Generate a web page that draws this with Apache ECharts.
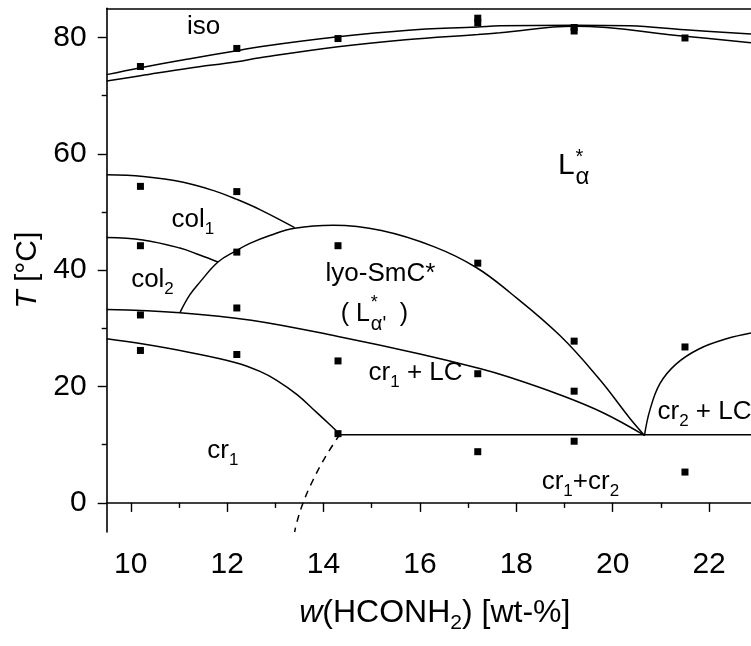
<!DOCTYPE html>
<html>
<head>
<meta charset="utf-8">
<script src="https://cdn.jsdelivr.net/npm/echarts@6/dist/echarts.min.js"></script>
<style>
  html, body { margin: 0; padding: 0; background: #fff; }
  #chart { width: 751px; height: 646px; }
</style>
</head>
<body>
<div id="chart"></div>
<script>
// Phase diagram: temperature T [°C] against formamide content w [wt-%]

// Axis ranges and tick values
const wRange = [9.5, 22.87];
const tRange = [-5, 85];
const wMajorTicks = [10, 12, 14, 16, 18, 20, 22];
const wMinorTicks = [11, 13, 15, 17, 19, 21];
const tMajorTicks = [0, 20, 40, 60, 80];
const tMinorTicks = [10, 30, 50, 70];

// Measured transition points [w, T]
const measured = [
  [10.2, 75.0], [10.2, 54.4], [10.2, 44.2], [10.2, 32.3], [10.2, 26.2],
  [12.2, 78.1], [12.2, 53.5], [12.2, 43.1], [12.2, 33.5], [12.2, 25.5],
  [14.3, 79.8], [14.3, 44.2], [14.3, 24.4], [14.3, 11.9],
  [17.2, 83.3], [17.2, 82.5], [17.2, 41.2], [17.2, 22.2], [17.2, 8.8],
  [19.2, 81.7], [19.2, 81.1], [19.2, 27.8], [19.2, 19.2], [19.2, 10.6],
  [21.5, 79.9], [21.5, 26.8], [21.5, 5.3]
];

// Phase boundaries [w, T]
const clearingUpper = [
  [9.5, 73.6], [10.2, 74.8], [11.2, 76.3], [12.2, 77.7], [12.68, 78.4],
  [14.3, 80.1], [15.7, 81.2], [17.2, 81.8], [17.66, 82.0], [19.2, 82.1],
  [20.35, 82.0], [21.5, 81.3], [22.87, 80.6]
];
const clearingLower = [
  [9.5, 72.5], [10.2, 73.4], [11.2, 74.7], [12.2, 75.8], [12.68, 76.5],
  [14.3, 78.4], [15.7, 79.6], [17.2, 80.5], [17.66, 80.8], [19.2, 81.9],
  [21.5, 80.2], [22.87, 79.1]
];
const col1Boundary = [
  [9.5, 56.4], [10.26, 56.1], [11.09, 55.1], [11.78, 53.5], [12.19, 52.2],
  [12.68, 50.4], [13.4, 47.3]
];
const col2Boundary = [
  [9.5, 45.6], [10.25, 45.2], [11.02, 43.8], [11.43, 42.6], [11.81, 41.4]
];
const smcUpper = [
  [11.02, 32.7], [11.22, 35.7], [11.43, 37.9], [11.81, 41.4], [12.18, 43.3],
  [12.47, 44.6], [12.9, 46.0], [13.4, 47.2], [14.2, 47.7], [15.2, 46.8],
  [16.3, 44.0], [17.16, 40.5], [17.86, 36.2], [18.9, 28.8], [19.73, 21.2],
  [20.35, 14.6], [20.66, 11.6]
];
const smcLower = [
  [9.5, 33.25], [11.02, 32.7], [12.5, 31.4], [14.3, 28.6], [16.0, 25.6],
  [17.24, 23.1], [17.86, 21.6], [18.9, 18.6], [19.8, 15.5], [20.66, 11.6]
];
const cr1Boundary = [
  [9.5, 28.2], [10.26, 27.3], [11.2, 25.9], [12.18, 24.1], [12.68, 22.6],
  [13.02, 21.1], [13.45, 18.6], [13.85, 15.6], [14.15, 13.3], [14.34, 11.8]
];
const cr1Extrapolated = [
  [14.34, 11.8], [14.06, 8.2], [13.78, 3.9], [13.57, -0.1], [13.44, -3.5], [13.4, -5]
];
const eutectic = [[14.34, 11.7], [22.87, 11.7]];
const cr2Boundary = [
  [20.66, 11.6], [20.77, 15.9], [20.98, 20.5], [21.32, 23.9], [21.8, 26.5],
  [22.36, 28.2], [22.87, 29.2]
];

// Phase names [w, T, rich text]
const phaseNames = [
  [11.51, 81.8, '{n|iso}'],
  [11.29, 48.6, '{n|col}{s|1}'],
  [10.45, 38.4, '{n|col}{s|2}'],
  [15.18, 39.3, '{n|lyo-SmC*}'],
  [15.91, 22.4, '{n|cr}{s|1}{n| + LC}'],
  [11.91, 8.9, '{n|cr}{s|1}'],
  [19.33, 3.6, '{n|cr}{s|1}{n|+cr}{s|2}']
];
const phaseNamesLeft = [
  [20.93, 15.6, '{n|cr}{s|2}{n| + LC}']
];
// L*α (right edge of the L) and ( L*α' )
const lAlpha = [19.21, 58.0];
const lAlphaPrime = [14.96, 32.4];

const FONT = '"Liberation Sans", Arial, Helvetica, sans-serif';
const INK = '#000';
const rich = {
  n: { fontSize: 26, fontFamily: FONT, color: INK },
  s: { fontSize: 17, fontFamily: FONT, color: INK, padding: [19, 0, 0, 0] },
  i: { fontSize: 32, fontFamily: FONT, color: INK, fontStyle: 'italic' },
  t: { fontSize: 32, fontFamily: FONT, color: INK },
  ts: { fontSize: 21, fontFamily: FONT, color: INK, padding: [21, 0, 0, 0] },
  yi: { fontSize: 30, fontFamily: FONT, color: INK, fontStyle: 'italic' },
  yt: { fontSize: 30, fontFamily: FONT, color: INK }
};

function nameItem(p, text, extra) {
  return {
    value: [p[0], p[1]],
    label: Object.assign({ formatter: text }, extra || {})
  };
}

const labelData = [];
phaseNames.forEach(p => labelData.push(nameItem(p, p[2], { align: 'center' })));
phaseNamesLeft.forEach(p => labelData.push(nameItem(p, p[2], { align: 'left' })));
// L*α
labelData.push(nameItem(lAlpha, 'L', { align: 'right', fontSize: 30 }));
labelData.push(nameItem(lAlpha, '*', { align: 'left', fontSize: 20, offset: [1, -8] }));
labelData.push(nameItem(lAlpha, 'α', { align: 'left', fontSize: 24, offset: [1, 12] }));
// ( L*α' )
labelData.push(nameItem(lAlphaPrime, '( L', { align: 'right', fontSize: 25 }));
labelData.push(nameItem(lAlphaPrime, '*', { align: 'left', fontSize: 18, offset: [1, -11] }));
labelData.push(nameItem(lAlphaPrime, "α'", { align: 'left', fontSize: 20, offset: [1, 10] }));
labelData.push(nameItem(lAlphaPrime, ')', { align: 'left', fontSize: 25, offset: [30, 0] }));

function boundary(data, dashed) {
  return {
    type: 'line',
    data: data,
    smooth: 0.4,
    symbol: 'none',
    silent: true,
    z: 2,
    lineStyle: { color: '#000', width: 1.5, type: dashed ? [7, 6] : 'solid' }
  };
}

const axisLine = { show: true, lineStyle: { color: '#000', width: 1.6 } };

const chart = echarts.init(document.getElementById('chart'), null, { renderer: 'canvas' });
chart.setOption({
  animation: false,
  backgroundColor: '#fff',
  grid: { left: 106.7, right: 0, top: 8.3, bottom: 114, containLabel: false },
  xAxis: [
    {
      type: 'value', min: wRange[0], max: wRange[1], position: 'bottom',
      axisLine: axisLine,
      splitLine: { show: false },
      axisTick: { show: true, inside: false, length: 9, customValues: wMajorTicks,
                  lineStyle: { color: '#000', width: 1.4 } },
      axisLabel: { customValues: wMajorTicks, fontSize: 30, fontFamily: FONT, color: INK, margin: 18 },
      name: '{i|w}{t|(HCONH}{ts|2}{t|) [wt-%]}',
      nameLocation: 'middle', nameGap: 60,
      nameTextStyle: { rich: rich, padding: [0, 0, 0, 12] }
    },
    {
      type: 'value', min: wRange[0], max: wRange[1], position: 'bottom',
      axisLine: { show: false },
      splitLine: { show: false },
      axisTick: { show: true, inside: false, length: 5, customValues: wMinorTicks,
                  lineStyle: { color: '#000', width: 1.4 } },
      axisLabel: { show: false }
    },
    {
      type: 'value', min: wRange[0], max: wRange[1], position: 'top',
      axisLine: axisLine,
      splitLine: { show: false },
      axisTick: { show: false },
      axisLabel: { show: false }
    }
  ],
  yAxis: [
    {
      type: 'value', min: tRange[0], max: tRange[1], position: 'left',
      axisLine: axisLine,
      splitLine: { show: false },
      axisTick: { show: true, inside: false, length: 9, customValues: tMajorTicks,
                  lineStyle: { color: '#000', width: 1.4 } },
      axisLabel: { customValues: tMajorTicks, fontSize: 30, fontFamily: FONT, color: INK, margin: 20 },
      name: '{yi|T}{yt| [°C]}',
      nameLocation: 'middle', nameGap: 62, nameRotate: 90,
      nameTextStyle: { rich: rich }
    },
    {
      type: 'value', min: tRange[0], max: tRange[1], position: 'left',
      axisLine: { show: false },
      splitLine: { show: false },
      axisTick: { show: true, inside: false, length: 5, customValues: tMinorTicks,
                  lineStyle: { color: '#000', width: 1.4 } },
      axisLabel: { show: false }
    }
  ],
  series: [
    boundary(clearingUpper),
    boundary(clearingLower),
    boundary(col1Boundary),
    boundary(col2Boundary),
    boundary(smcUpper),
    boundary(smcLower),
    boundary(cr1Boundary),
    boundary(cr1Extrapolated, true),
    boundary(eutectic),
    boundary(cr2Boundary),
    {
      type: 'scatter',
      data: measured,
      symbol: 'rect',
      symbolSize: 7,
      silent: true,
      z: 4,
      itemStyle: { color: '#000', opacity: 1 }
    },
    {
      type: 'scatter',
      data: labelData,
      symbolSize: 0,
      silent: true,
      z: 5,
      itemStyle: { opacity: 1 },
      label: {
        show: true, position: 'inside', verticalAlign: 'middle',
        fontSize: 26, fontFamily: FONT, color: INK, rich: rich
      }
    }
  ]
});
</script>
</body>
</html>
